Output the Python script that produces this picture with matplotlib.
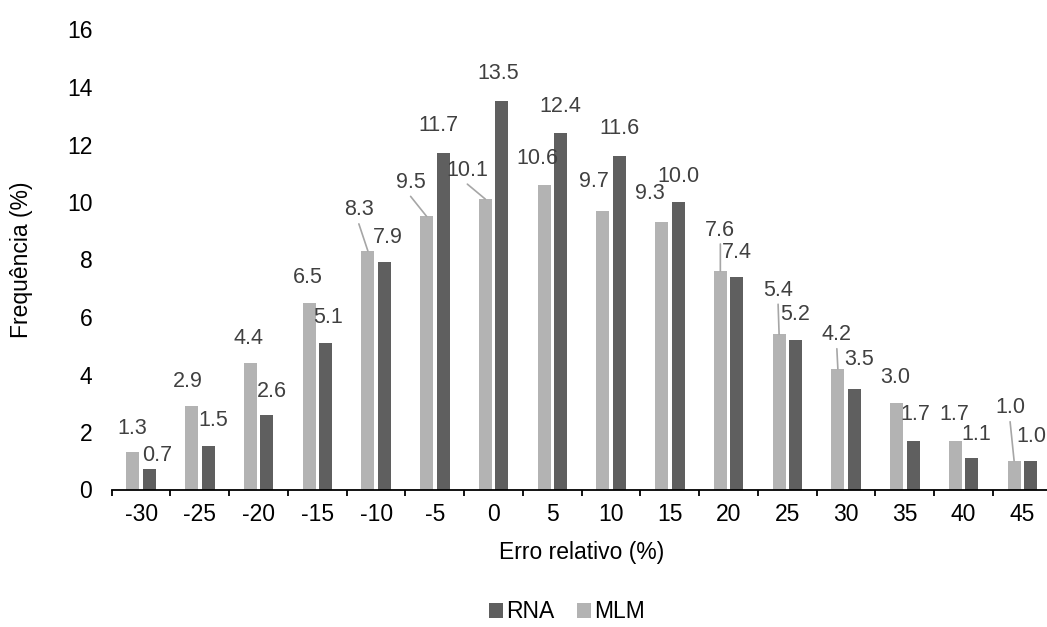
import matplotlib
matplotlib.use("Agg")
import matplotlib.pyplot as plt
import numpy as np
from matplotlib.patches import Patch

plt.rcParams['font.family'] = ['Liberation Sans', 'DejaVu Sans']

# relative error classes and frequency (%) per model
classes = ['-30', '-25', '-20', '-15', '-10', '-5', '0', '5',
           '10', '15', '20', '25', '30', '35', '40', '45']
rna = [0.7, 1.5, 2.6, 5.1, 7.9, 11.7, 13.5, 12.4,
       11.6, 10.0, 7.4, 5.2, 3.5, 1.7, 1.1, 1.0]
mlm = [1.3, 2.9, 4.4, 6.5, 8.3, 9.5, 10.1, 10.6,
       9.7, 9.3, 7.6, 5.4, 4.2, 3.0, 1.7, 1.0]

# label offsets (pixels from bar top) and whether a leader line is drawn
mlm_off = [(-1, 24, 0), (-4, 25, 0), (-2, 25, 0), (-1, 25, 0), (-9, 41, 1),
           (-16, 34, 1), (-18, 29, 1), (-7, 26, 0), (-9, 29, 0), (-12, 29, 0),
           (0, 41, 1), (-1, 44, 1), (-1, 34, 1), (-1, 26, 0), (-1, 26, 0),
           (-4, 53, 1)]
rna_off = [(8, 14), (5, 26), (5, 23), (2, 25), (4, 25), (-5, 28), (-4, 28),
           (0, 26), (0, 27), (0, 25), (0, 24), (0, 25), (5, 29), (2, 26),
           (4, 23), (1, 24)]

c_rna = '#5f5f5f'
c_mlm = '#b3b3b3'
c_txt = '#404040'
fs = 16.5
fs_lab = 15.5

fig = plt.figure(figsize=(10.47, 6.27), dpi=100)
ax = fig.add_axes([111.7 / 1047, 137.5 / 627, 940 / 1047, 460 / 627])

x = np.arange(len(classes))
w = 0.22
ax.bar(x - 0.14, mlm, w, color=c_mlm, zorder=2)
ax.bar(x + 0.14, rna, w, color=c_rna, zorder=2)

for i in range(len(classes)):
    dx, dy, lead = mlm_off[i]
    ax.annotate(f'{mlm[i]:.1f}', xy=(x[i] - 0.14, mlm[i]), xytext=(dx, dy),
                textcoords='offset pixels', ha='center', va='center',
                fontsize=fs_lab, color=c_txt)
    if lead:
        ax.annotate('', xy=(x[i] - 0.14, mlm[i]), xytext=(dx, dy - 14),
                    textcoords='offset pixels',
                    arrowprops=dict(arrowstyle='-', color='#a6a6a6', lw=1.2,
                                    shrinkA=0, shrinkB=0))
    dx, dy = rna_off[i]
    ax.annotate(f'{rna[i]:.1f}', xy=(x[i] + 0.14, rna[i]), xytext=(dx, dy),
                textcoords='offset pixels', ha='center', va='center',
                fontsize=fs_lab, color=c_txt)

ax.set_xlim(-0.5, len(classes) - 0.5)
ax.set_ylim(0, 16)
ax.set_yticks(np.arange(0, 17, 2))
ax.set_xticks(x)
ax.set_xticklabels(classes)
ax.set_xticks(np.arange(-0.5, len(classes), 1), minor=True)
ax.tick_params(axis='both', which='major', length=0, labelsize=fs,
               labelcolor='#000000')
ax.tick_params(axis='x', which='major', pad=10)
ax.tick_params(axis='y', which='major', pad=14)
ax.tick_params(axis='x', which='minor', length=4, width=1.3, color='black')

for s in ['top', 'right', 'left']:
    ax.spines[s].set_visible(False)
ax.spines['bottom'].set_linewidth(1.3)
ax.spines['bottom'].set_color('black')

fig.text(22 / 1047, 0.5 * (137.5 + 597.5) / 627, 'Frequência (%)', rotation=90,
         ha='center', va='center', fontsize=fs)
fig.text(581.7 / 1047, (627 - 552) / 627, 'Erro relativo (%)',
         ha='center', va='center', fontsize=fs)

handles = [Patch(facecolor=c_rna, label='RNA'), Patch(facecolor=c_mlm, label='MLM')]
fig.legend(handles=handles, loc='center', bbox_to_anchor=(567 / 1047, 15 / 627),
           ncol=2, frameon=False, fontsize=fs, handlelength=0.6,
           handleheight=0.6, handletextpad=0.15, columnspacing=1.0)

fig.savefig('out.png', dpi=100)
